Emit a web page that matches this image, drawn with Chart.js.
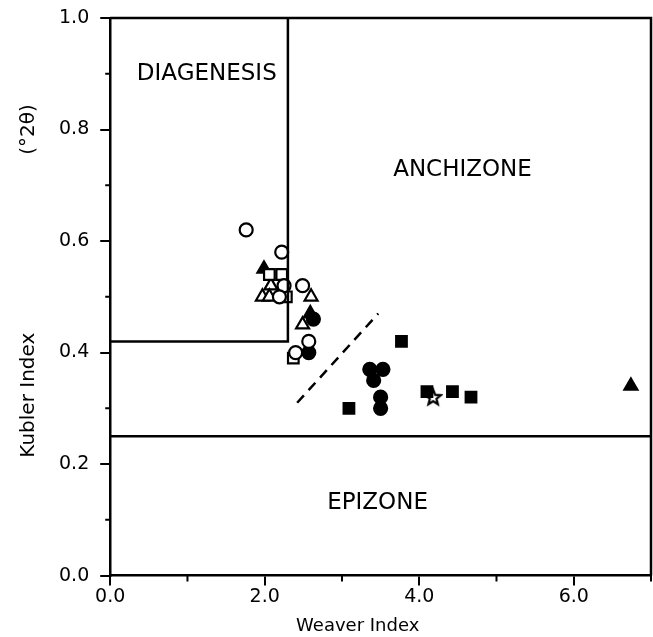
<!DOCTYPE html>
<html>
<head>
<meta charset="utf-8">
<script src="https://cdn.jsdelivr.net/npm/chart.js@4"></script>
<style>
  html, body { margin: 0; padding: 0; background: #fff; }
  #wrap { width: 653px; height: 637px; }
</style>
</head>
<body>
<div id="wrap"><canvas id="plot"></canvas></div>
<script>
// sample points, [weaver, kubler]
var openCircles = [[1.76, 0.62], [2.22, 0.58], [2.25, 0.52], [2.49, 0.52], [2.19, 0.50], [2.57, 0.42], [2.40, 0.40]];
var filledCircles = [[2.63, 0.46], [2.57, 0.40], [3.36, 0.37], [3.53, 0.37], [3.41, 0.35], [3.50, 0.32], [3.50, 0.30]];
var openTriangles = [[2.08, 0.52], [1.97, 0.50], [2.06, 0.50], [2.60, 0.50], [2.49, 0.45]];
var filledTriangles = [[1.99, 0.55], [2.59, 0.47], [6.74, 0.34]];
var openSquares = [[2.06, 0.54], [2.22, 0.54], [2.28, 0.50], [2.37, 0.39]];
var filledSquares = [[3.77, 0.42], [3.09, 0.30], [4.10, 0.33], [4.43, 0.33], [4.67, 0.32]];
var stars = [[4.18, 0.32]];

// zone boundaries
var diagenesisBox = [[0, 0.42], [2.3, 0.42], [2.3, 1.0]];
var epizoneLine = [[0, 0.25], [7, 0.25]];
var frameLine = [[0, 1.0], [7, 1.0], [7, 0]];
var dashedLine = [[2.42, 0.31], [3.47, 0.47]];

var zoneNames = ['DIAGENESIS', 'ANCHIZONE', 'EPIZONE'];
var zoneX = [1.25, 4.56, 3.46];
var zoneY = [0.90, 0.727, 0.13];

var xMinorTicks = [1, 3, 5, 7];
var yMinorTicks = [0.1, 0.3, 0.5, 0.7, 0.9];

function pts(arr) {
    return arr.map(function(p) { return {x: p[0], y: p[1]}; });
}

// five point outline star
var starImg = document.createElement('canvas');
starImg.width = 20; starImg.height = 20;
(function() {
    var c = starImg.getContext('2d');
    c.beginPath();
    for (var i = 0; i < 10; i++) {
        var r = i % 2 === 0 ? 8 : 3.5;
        var a = -Math.PI / 2 + i * Math.PI / 5;
        var px = 10 + r * Math.cos(a), py = 10.5 + r * Math.sin(a);
        if (i === 0) c.moveTo(px, py); else c.lineTo(px, py);
    }
    c.closePath();
    c.fillStyle = '#fff';
    c.fill();
    c.lineWidth = 2.2;
    c.strokeStyle = '#000';
    c.stroke();
})();

function marker(arr, style, filled, r) {
    return {
        data: pts(arr),
        pointStyle: style,
        pointRadius: r,
        pointBackgroundColor: filled ? '#000' : '#fff',
        pointBorderColor: '#000',
        pointBorderWidth: 2.2,
        showLine: false
    };
}

function line(arr, dash) {
    return {
        data: pts(arr),
        showLine: true,
        borderColor: '#000',
        borderWidth: 2.5,
        borderDash: dash || [],
        pointRadius: 0,
        clip: false
    };
}

var extras = {
    id: 'extras',
    afterDatasetsDraw: function(chart) {
        var ctx = chart.ctx;
        var xs = chart.scales.x, ys = chart.scales.y;
        ctx.save();
        // short minor ticks
        ctx.strokeStyle = '#000';
        ctx.lineWidth = 2;
        ctx.beginPath();
        xMinorTicks.forEach(function(v) {
            var px = xs.getPixelForValue(v);
            ctx.moveTo(px, xs.top);
            ctx.lineTo(px, xs.top + 6);
        });
        yMinorTicks.forEach(function(v) {
            var py = ys.getPixelForValue(v);
            ctx.moveTo(ys.right, py);
            ctx.lineTo(ys.right - 5, py);
        });
        ctx.stroke();
        // zone names
        ctx.font = '23px "DejaVu Sans"';
        ctx.fillStyle = '#000';
        ctx.textAlign = 'center';
        ctx.textBaseline = 'middle';
        for (var i = 0; i < zoneNames.length; i++) {
            ctx.fillText(zoneNames[i], xs.getPixelForValue(zoneX[i]), ys.getPixelForValue(zoneY[i]));
        }
        ctx.restore();
    }
};

function majorColor(step) {
    return function(c) {
        var k = Math.round(c.tick.value / step);
        return k % 2 === 0 ? '#000' : 'rgba(0,0,0,0)';
    };
}

var ctx = document.getElementById('plot').getContext('2d');
new Chart(ctx, {
    type: 'scatter',
    data: {
        datasets: [
            line(diagenesisBox),
            line(epizoneLine),
            line(frameLine),
            line(dashedLine, [10, 7]),
            marker(openCircles, 'circle', false, 6.5),
            marker(openSquares, 'rect', false, 7.5),
            marker(openTriangles, 'triangle', false, 7.5),
            marker(filledCircles, 'circle', true, 6.5),
            marker(filledTriangles, 'triangle', true, 7.5),
            marker(filledSquares, 'rect', true, 7.5),
            {data: pts(stars), pointStyle: starImg, showLine: false}
        ]
    },
    options: {
        responsive: true,
        maintainAspectRatio: false,
        animation: false,
        layout: {autoPadding: false, padding: {top: 18, right: 2, left: 17, bottom: 0}},
        plugins: {legend: {display: false}, tooltip: {enabled: false}},
        scales: {
            x: {
                type: 'linear',
                min: 0, max: 7,
                afterFit: function(s) { s.paddingRight = 0; },
                grid: {drawOnChartArea: false, tickLength: 10, lineWidth: 2, tickColor: majorColor(1)},
                border: {color: '#000', width: 2.5},
                ticks: {
                    stepSize: 1,
                    color: '#000',
                    font: {family: 'DejaVu Sans', size: 19},
                    padding: 0,
                    maxRotation: 0,
                    callback: function(v) { return v % 2 === 0 ? v.toFixed(1) : ''; }
                },
                title: {display: true, text: 'Weaver Index        ', color: '#000',
                        font: {family: 'DejaVu Sans', size: 18}, padding: {top: 7, bottom: 0}}
            },
            y: {
                type: 'linear',
                min: 0, max: 1.0,
                afterFit: function(s) { s.paddingTop = 0; },
                grid: {drawOnChartArea: false, tickLength: 10, lineWidth: 2, tickColor: majorColor(0.1)},
                border: {color: '#000', width: 2.5},
                ticks: {
                    stepSize: 0.1,
                    color: '#000',
                    font: {family: 'DejaVu Sans', size: 19},
                    padding: 11,
                    callback: function(v) {
                        var k = Math.round(v * 10);
                        return k % 2 === 0 ? (k / 10).toFixed(1) : '';
                    }
                },
                title: {display: true,
                        text: '     Kubler Index                            (°2θ)',
                        color: '#000',
                        font: {family: 'DejaVu Sans', size: 20}, padding: {top: 0, bottom: 7}}
            }
        }
    },
    plugins: [extras]
});
</script>
</body>
</html>
